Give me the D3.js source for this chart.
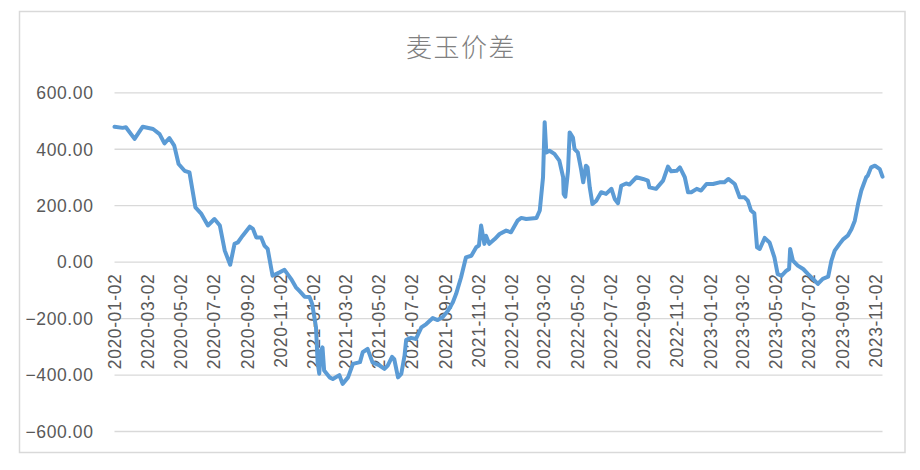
<!DOCTYPE html>
<html>
<head>
<meta charset="utf-8">
<script src="https://cdn.jsdelivr.net/npm/d3@7"></script>
<style>
  body { margin: 0; background: #fff; }
  svg text { font-family: "Liberation Sans", Arial, sans-serif; fill: #595959; }
</style>
</head>
<body>
<svg id="chart" width="920" height="470"></svg>
<script>
// 麦玉价差 (wheat - corn spread)
var dates = [
  "2020-01-02","2020-01-17","2020-01-23","2020-02-08","2020-02-23","2020-03-13","2020-03-25","2020-04-03","2020-04-12","2020-04-21",
  "2020-04-29","2020-05-10","2020-05-19","2020-05-30","2020-06-10","2020-06-22","2020-07-04","2020-07-14","2020-07-23","2020-08-02",
  "2020-08-10","2020-08-16","2020-08-25","2020-09-07","2020-09-13","2020-09-19","2020-09-28","2020-10-04","2020-10-10","2020-10-19",
  "2020-11-01","2020-11-10","2020-11-22","2020-12-01","2020-12-07","2020-12-17","2020-12-26","2020-12-31","2021-01-07","2021-01-10",
  "2021-01-13","2021-01-16","2021-01-19","2021-01-22","2021-02-01","2021-02-07","2021-02-19","2021-02-25","2021-03-07","2021-03-16",
  "2021-03-29","2021-04-03","2021-04-12","2021-04-21","2021-05-04","2021-05-13","2021-05-19","2021-05-27","2021-05-31","2021-06-07",
  "2021-06-13","2021-06-19","2021-06-22","2021-07-01","2021-07-10","2021-07-20","2021-07-29","2021-08-10","2021-08-19","2021-08-28",
  "2021-09-07","2021-09-16","2021-09-22","2021-10-01","2021-10-10","2021-10-20","2021-10-29","2021-11-03","2021-11-07","2021-11-13",
  "2021-11-16","2021-11-22","2021-12-02","2021-12-11","2021-12-23","2022-01-01","2022-01-13","2022-01-20","2022-01-29","2022-02-17",
  "2022-02-23","2022-03-01","2022-03-04","2022-03-07","2022-03-13","2022-03-22","2022-03-31","2022-04-07","2022-04-08","2022-04-11",
  "2022-04-16","2022-04-19","2022-04-25","2022-04-28","2022-05-04","2022-05-10","2022-05-14","2022-05-19","2022-05-22","2022-05-26",
  "2022-05-31","2022-06-07","2022-06-16","2022-06-25","2022-07-05","2022-07-11","2022-07-17","2022-07-23","2022-08-01","2022-08-07",
  "2022-08-20","2022-09-01","2022-09-10","2022-09-13","2022-09-25","2022-10-08","2022-10-17","2022-10-23","2022-11-02","2022-11-08",
  "2022-11-17","2022-11-23","2022-11-29","2022-12-09","2022-12-17","2022-12-27","2023-01-08","2023-01-20","2023-01-29","2023-02-05",
  "2023-02-17","2023-02-26","2023-03-07","2023-03-13","2023-03-19","2023-03-25","2023-03-30","2023-04-04","2023-04-13","2023-04-22",
  "2023-05-01","2023-05-07","2023-05-14","2023-05-23","2023-05-28","2023-05-30","2023-06-04","2023-06-13","2023-06-23","2023-07-02",
  "2023-07-11","2023-07-20","2023-07-29","2023-08-08","2023-08-14","2023-08-20","2023-08-29","2023-09-05","2023-09-13","2023-09-20",
  "2023-09-26","2023-10-02","2023-10-08","2023-10-17","2023-10-20","2023-10-26","2023-11-02","2023-11-11","2023-11-16"
];
var spread = [
  478, 474, 476, 435, 478, 470, 452, 419, 438, 411,
  346, 322, 316, 192, 169, 128, 151, 128, 39, -11,
  63, 68, 92, 124, 116, 86, 86, 57, 45, -50,
  -38, -29, -61, -91, -103, -124, -125, -150, -233, -357,
  -397, -315, -304, -386, -410, -416, -402, -433, -410, -362,
  -356, -321, -309, -357, -368, -380, -368, -337, -345, -410,
  -398, -333, -277, -270, -274, -233, -221, -200, -207, -197,
  -174, -144, -114, -56, 15, 21, 51, 57, 128, 63,
  92, 63, 80, 98, 110, 104, 145, 155, 151, 155,
  181, 299, 494, 387, 393, 382, 358, 299, 240, 230,
  322, 458, 440, 399, 387, 328, 281, 340, 334, 263,
  204, 216, 246, 240, 258, 222, 207, 269, 277, 273,
  299, 293, 287, 263, 258, 287, 337, 320, 322, 334,
  299, 246, 246, 258, 252, 275, 275, 281, 281, 293,
  275, 228, 228, 216, 181, 171, 51, 45, 84, 68,
  15, -44, -50, -32, -26, 45, 4, -14, -26, -44,
  -61, -79, -61, -53, 4, 39, 63, 80, 92, 116,
  145, 204, 252, 299, 305, 334, 340, 328, 301
];
var tickLabels = [
  "2020-01-02","2020-03-02","2020-05-02","2020-07-02","2020-09-02","2020-11-02",
  "2021-01-02","2021-03-02","2021-05-02","2021-07-02","2021-09-02","2021-11-02",
  "2022-01-02","2022-03-02","2022-05-02","2022-07-02","2022-09-02","2022-11-02",
  "2023-01-02","2023-03-02","2023-05-02","2023-07-02","2023-09-02","2023-11-02"
];
var yTicks = [-600, -400, -200, 0, 200, 400, 600];
var title = "麦玉价差";

(function() {
  var parse = d3.timeParse("%Y-%m-%d");
  var data = dates.map(function(d, i) { return { date: parse(d), v: spread[i] }; });

  var svg = d3.select("#chart");
  var plotL = 114.5, plotR = 882.5, plotT = 92.3, plotB = 431;

  // outer frame
  svg.append("rect")
    .attr("x", 19.5).attr("y", 11.5)
    .attr("width", 885.5).attr("height", 441)
    .attr("fill", "#fff")
    .attr("stroke", "#d9d9d9")
    .attr("stroke-width", 1.5);

  svg.append("text")
    .attr("x", 461).attr("y", 57)
    .attr("text-anchor", "middle")
    .style("font-family", "'Noto Sans CJK SC', sans-serif")
    .style("font-size", "26px")
    .style("font-weight", 300)
    .style("fill", "#808080")
    .style("letter-spacing", "1.5px")
    .text(title);

  var x = d3.scaleTime()
    .domain([data[0].date, data[data.length - 1].date])
    .range([plotL, plotR]);
  var y = d3.scaleLinear().domain([-600, 600]).range([plotB, plotT]);

  // y axis: gridlines + labels
  var yAxis = svg.append("g")
    .attr("transform", "translate(" + plotL + ",0)")
    .call(d3.axisLeft(y).tickValues(yTicks).tickFormat(d3.format(".2f"))
      .tickSize(-(plotR - plotL)).tickPadding(21));
  yAxis.select(".domain").remove();
  yAxis.selectAll("line").attr("stroke", "#d9d9d9").attr("stroke-width", 1.3);
  yAxis.selectAll("text")
    .attr("fill", "#595959")
    .style("font-size", "17.5px")
    .style("letter-spacing", "0.6px")
    .attr("dy", "0.36em");

  // x labels, rotated, hanging under the zero line
  var xAxis = svg.append("g")
    .attr("transform", "translate(0," + y(0) + ")")
    .call(d3.axisBottom(x).tickValues(tickLabels.map(parse)).tickSize(0)
      .tickFormat(d3.timeFormat("%Y-%m-%d")));
  xAxis.select(".domain").remove();
  xAxis.selectAll("text")
    .attr("fill", "#595959")
    .style("font-size", "17.5px")
    .style("letter-spacing", "0.6px")
    .attr("text-anchor", "end")
    .attr("transform", "rotate(-90)")
    .attr("x", -12).attr("y", 0).attr("dy", "0.36em");

  var line = d3.line()
    .x(function(d) { return x(d.date); })
    .y(function(d) { return y(d.v); });

  svg.append("path")
    .datum(data)
    .attr("d", line)
    .attr("fill", "none")
    .attr("stroke", "#5b9bd5")
    .attr("stroke-width", 4)
    .attr("stroke-linejoin", "round")
    .attr("stroke-linecap", "round");
})();
</script>
</body>
</html>
